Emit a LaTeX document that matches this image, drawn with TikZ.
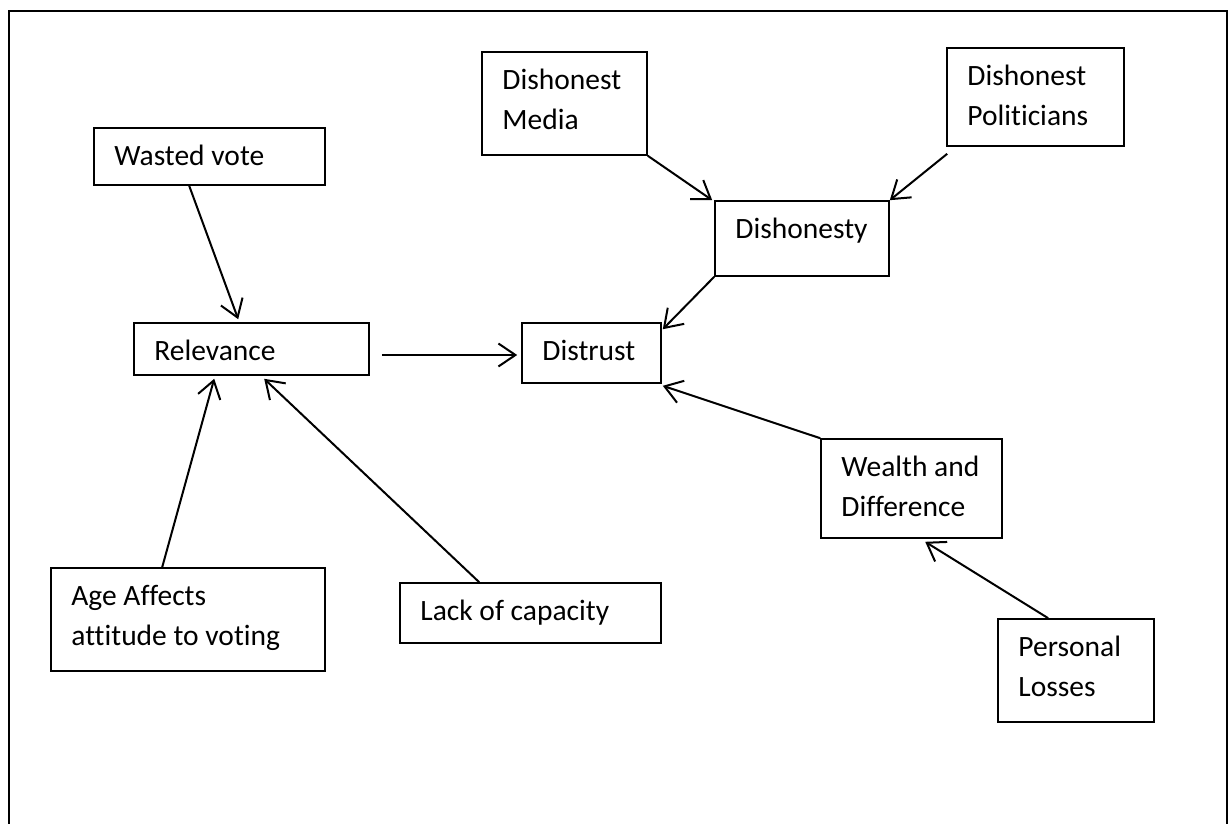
\documentclass[tikz,border=0pt]{standalone}
\usepackage{fontspec}
\setmainfont{Carlito}[Ligatures=NoCommon]
\usetikzlibrary{arrows.meta,fit}
\newcommand\twolines[2]{\vtop{\hbox{#1}\hbox{#2}}}
\tikzset{
  box/.style={draw=black, line width=1.6pt, inner sep=0pt, fill=none},
  txt/.style={anchor=base west, inner sep=0pt, font=\fontsize{29.5}{40}\selectfont},
  arr/.style={line width=2pt, -{Straight Barb[length=17pt,width=23pt,line width=2pt]}},
  frame/.style={line width=2.4pt}
}
\newcommand\mybox[6]{%
  \coordinate (#1-a) at (#2,#3);
  \coordinate (#1-b) at (#4,#5);
  \node[box, fit=(#1-a)(#1-b)] (#1) {};
  \node[txt] (#1-t) at ([shift={(21pt,-38pt)}]#1.north west) {#6};
}
\begin{document}
\begin{tikzpicture}[x=1pt,y=-1pt]
\useasboundingbox (0,0) rectangle (1231,824);
\fill[white] (0,0) rectangle (1231,824);
% frame (open at the bottom)
\coordinate (fbl) at (9,830);
\coordinate (ftl) at (9,11);
\coordinate (ftr) at (1227,11);
\coordinate (fbr) at (1227,830);
\draw[frame] (fbl) -- (ftl) -- (ftr) -- (fbr);

\mybox{wv}{94}{128}{325}{185}{Wasted vote}
\mybox{dm}{482}{52}{647}{155}{\twolines{Dishonest}{Media}}
\mybox{dp}{947}{48}{1124}{146}{\twolines{Dishonest}{Politicians}}
\mybox{dh}{715}{201}{889}{276}{Dishonesty}
\mybox{rel}{134}{323}{369}{375}{Relevance}
\mybox{dis}{522}{323}{661}{383}{Distrust}
\mybox{wd}{821}{439}{1002}{538}{\twolines{Wealth and}{Difference}}
\mybox{age}{51}{568}{325}{671}{\twolines{Age Affects}{attitude to voting}}
\mybox{lc}{400}{583}{661}{643}{Lack of capacity}
\mybox{pl}{998}{619}{1154}{722}{\twolines{Personal}{Losses}}

% connectors
\draw[arr] ([xshift=96pt]wv.south west) -- ([shift={(105pt,3pt)}]rel.north west);
\draw[arr] ([shift={(12pt,-6pt)}]rel.east) -- ([shift={(-4pt,-2pt)}]dis.west);
\draw[arr] ([xshift=112pt]age.north west) -- ([shift={(81pt,-3pt)}]rel.south west);
\draw[arr] ([xshift=80pt]lc.north west) -- ([shift={(131pt,-3pt)}]rel.south west);
\draw[arr] (dm.south east) -- ([xshift=-2pt]dh.north west);
\draw[arr] ([shift={(1pt,-7pt)}]dp.south west) -- (dh.north east);
\draw[arr] (dh.south west) -- ([shift={(1pt,-7pt)}]dis.north east);
\draw[arr] (wd.north west) -- ([shift={(1pt,-2pt)}]dis.south east);
\draw[arr] ([xshift=51pt]pl.north west) -- ([shift={(105pt,-3pt)}]wd.south west);
\end{tikzpicture}
\end{document}
